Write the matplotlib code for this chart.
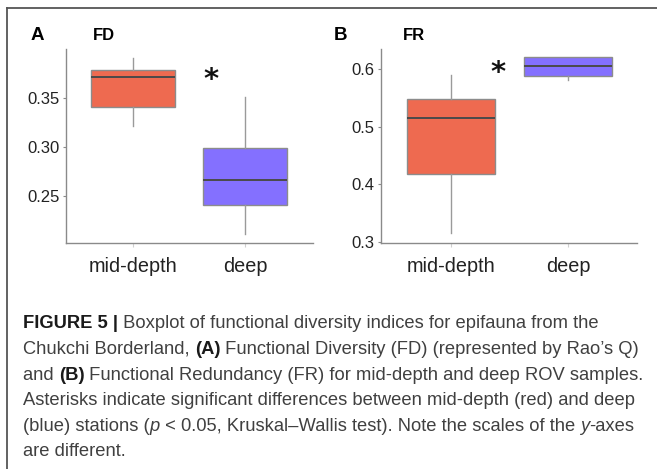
import matplotlib
matplotlib.use("Agg")
import matplotlib.pyplot as plt
from matplotlib.lines import Line2D

# ---------------- data ----------------
categories = ["mid-depth", "deep"]
box_colors = ["#EE6A50", "#8470FF"]

fd_whislo = [0.321, 0.211]
fd_q1 = [0.3405, 0.2405]
fd_med = [0.371, 0.266]
fd_q3 = [0.378, 0.2987]
fd_whishi = [0.391, 0.3507]
fd_ticks = [0.25, 0.30, 0.35]
fd_ticklabels = ["0.25", "0.30", "0.35"]

fr_whislo = [0.3146, 0.5807]
fr_q1 = [0.4174, 0.5873]
fr_med = [0.5156, 0.6057]
fr_q3 = [0.5476, 0.6203]
fr_whishi = [0.590, 0.6203]
fr_ticks = [0.3, 0.4, 0.5, 0.6]
fr_ticklabels = ["0.3", "0.4", "0.5", "0.6"]

W, H = 657, 469
fig = plt.figure(figsize=(W / 100, H / 100), dpi=100)
fig.patch.set_facecolor("white")

FONT = "Liberation Sans"


def px_axes(l, t, r, b):
    return fig.add_axes([l / W, 1 - b / H, (r - l) / W, (b - t) / H])


def draw_panel(ax, lo, q1, med, q3, hi, ylim, ticks, ticklabels, width, xlim):
    stats = []
    for i in range(len(categories)):
        stats.append(dict(whislo=lo[i], q1=q1[i], med=med[i], q3=q3[i],
                          whishi=hi[i], fliers=[], label=categories[i]))
    bp = ax.bxp(stats, positions=[1, 2], widths=width, patch_artist=True,
                showfliers=False, showcaps=False,
                boxprops=dict(edgecolor="#8c8c8c", linewidth=1.0),
                whiskerprops=dict(color="#9a9a9a", linewidth=1.0),
                medianprops=dict(color="#4a4a4a", linewidth=1.4))
    for patch, c in zip(bp["boxes"], box_colors):
        patch.set_facecolor(c)
    ax.set_xlim(*xlim)
    ax.set_ylim(*ylim)
    ax.set_yticks(ticks)
    ax.set_yticklabels(ticklabels, fontsize=12, family=FONT, color="#222222")
    ax.set_xticks([1, 2])
    ax.set_xticklabels(categories, fontsize=14.3, family=FONT, color="#222222")
    for s in ["top", "right"]:
        ax.spines[s].set_visible(False)
    for s in ["left", "bottom"]:
        ax.spines[s].set_color("#8a8a8a")
        ax.spines[s].set_linewidth(1.0)
    ax.tick_params(axis="y", length=2.5, width=0.8, color="#8a8a8a", pad=2)
    ax.tick_params(axis="x", length=3, width=0.8, color="#d0d0d0", pad=7)
    ax.set_facecolor("white")


axA = px_axes(66, 49, 313, 243)
draw_panel(axA, fd_whislo, fd_q1, fd_med, fd_q3, fd_whishi,
           (0.2017, 0.3997), fd_ticks, fd_ticklabels, 0.755, (0.402, 2.607))
axB = px_axes(381, 49, 637, 243)
draw_panel(axB, fr_whislo, fr_q1, fr_med, fr_q3, fr_whishi,
           (0.298, 0.6347), fr_ticks, fr_ticklabels, 0.747, (0.402, 2.59))

# significance asterisks (placed in data coords)
axA.text(1.70, 0.368, "*", fontsize=21, fontweight="bold", family="DejaVu Sans",
         ha="center", va="center", color="#111111")
axB.text(1.40, 0.593, "*", fontsize=21, fontweight="bold", family="DejaVu Sans",
         ha="center", va="center", color="#111111")

# panel letters and titles
def ftext(x, y, s, **kw):
    fig.text(x / W, 1 - y / H, s, **kw)

ftext(31, 35, "A", fontsize=13.5, fontweight="bold", family=FONT, va="center", ha="left")
ftext(93, 35, "FD", fontsize=12, fontweight="bold", family=FONT, va="center", ha="left")
ftext(334, 35, "B", fontsize=13.5, fontweight="bold", family=FONT, va="center", ha="left")
ftext(403, 35, "FR", fontsize=12, fontweight="bold", family=FONT, va="center", ha="left")

# frame border (top and left)
fig.add_artist(Line2D([7 / W, 1.0], [1 - 8 / H, 1 - 8 / H], transform=fig.transFigure,
                      color="#555555", linewidth=1.3))
fig.add_artist(Line2D([7 / W, 7 / W], [0, 1 - 8 / H], transform=fig.transFigure,
                      color="#555555", linewidth=1.3))

# caption
caption_lines = [
    [("FIGURE 5 |", "bold", "normal"), (" Boxplot of functional diversity indices for epifauna from the", "normal", "normal")],
    [("Chukchi Borderland, ", "normal", "normal"), ("(A)", "bold", "normal"),
     (" Functional Diversity (FD) (represented by Rao\u2019s Q)", "normal", "normal")],
    [("and ", "normal", "normal"), ("(B)", "bold", "normal"),
     (" Functional Redundancy (FR) for mid-depth and deep ROV samples.", "normal", "normal")],
    [("Asterisks indicate significant differences between mid-depth (red) and deep", "normal", "normal")],
    [("(blue) stations (", "normal", "normal"), ("p", "normal", "italic"),
     (" < 0.05, Kruskal\u2013Wallis test). Note the scales of the ", "normal", "normal"),
     ("y", "normal", "italic"), ("-axes", "normal", "normal")],
    [("are different.", "normal", "normal")],
]
cap_size = 13.2
cap_y0 = 322
cap_dy = 25.5
cap_x0 = 23
renderer = fig.canvas.get_renderer()
for li, pieces in enumerate(caption_lines):
    x = cap_x0
    y = cap_y0 + li * cap_dy
    for s, wgt, sty in pieces:
        col = "#1a1a1a" if wgt == "bold" else "#404040"
        t = fig.text(x / W, 1 - y / H, s, fontsize=cap_size, fontweight=wgt, fontstyle=sty,
                     family=FONT, color=col, ha="left", va="center_baseline")
        bb = t.get_window_extent(renderer=renderer)
        x += bb.width

fig.savefig("out.png", dpi=100, facecolor="white")
